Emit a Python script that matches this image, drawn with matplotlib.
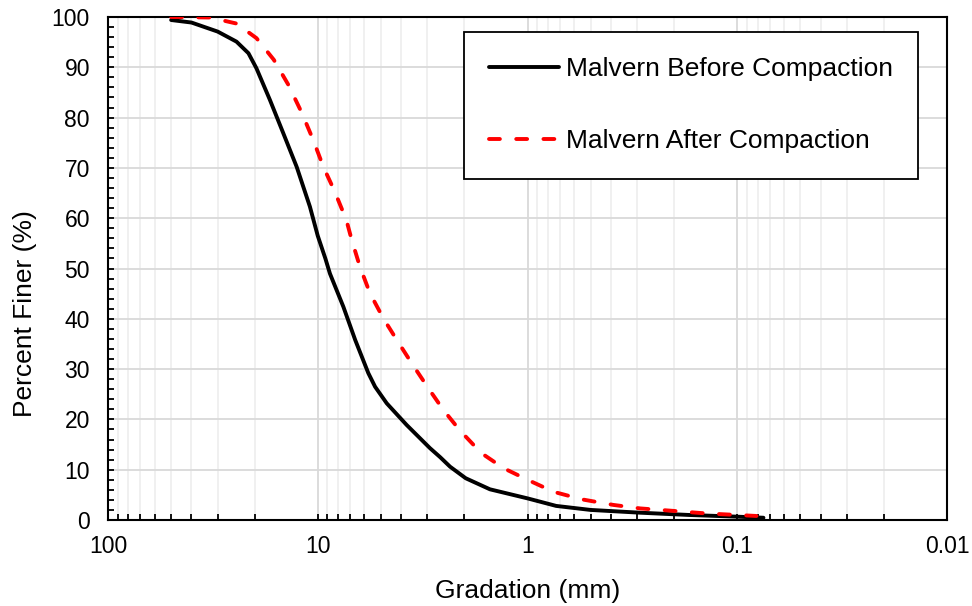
import matplotlib
matplotlib.use("Agg")
import matplotlib.pyplot as plt
from matplotlib.ticker import LogLocator, FixedLocator, MultipleLocator, NullFormatter

plt.rcParams['font.family'] = ['Liberation Sans', 'DejaVu Sans']

# Grain size distribution (mm vs percent finer)
before_size = [50, 40, 30, 24.4, 21.4, 19.6, 16.9, 14.6, 12.6, 10.9, 10.0, 9.2, 8.75,
               7.55, 6.63, 5.74, 5.33, 4.69, 3.77, 2.92, 2.61, 2.34, 1.97, 1.51, 1.0,
               0.73, 0.50, 0.29, 0.17, 0.10, 0.075]
before_pct = [99.4, 98.9, 97.1, 95.1, 92.8, 89.8, 83.5, 76.9, 70.2, 62.3, 56.5, 52.0, 49.0,
              42.4, 35.8, 29.2, 26.5, 23.2, 18.9, 14.3, 12.5, 10.6, 8.3, 6.1, 4.3,
              2.8, 2.0, 1.45, 1.0, 0.66, 0.45]

after_size = [50, 32.6, 24.4, 19.6, 16.2, 13.8, 11.9, 10.5, 9.4, 8.3, 7.3, 6.9, 6.3,
              5.64, 4.87, 4.2, 3.57, 2.97, 2.52, 2.10, 1.66, 1.30, 1.0, 0.75, 0.55,
              0.39, 0.29, 0.20, 0.14, 0.10, 0.081]
after_pct = [100.0, 99.9, 98.7, 95.8, 91.5, 86.5, 80.9, 75.5, 70.2, 65.3, 59.6, 55.8, 50.4,
             45.1, 40.1, 35.8, 31.2, 26.2, 21.9, 17.8, 13.3, 10.3, 8.0, 5.6, 4.1,
             3.0, 2.3, 1.8, 1.3, 1.0, 0.8]

series_labels = ["Malvern Before Compaction", "Malvern After Compaction"]
x_ticks = [100, 10, 1, 0.1, 0.01]
x_tick_labels = ["100", "10", "1", "0.1", "0.01"]

fig = plt.figure(figsize=(9.72, 6.06), dpi=100)
ax = fig.add_axes([108 / 972, 86 / 606, 839 / 972, 503 / 606])

ax.set_xscale('log')
ax.set_xlim(100, 0.01)
ax.set_ylim(0, 100)

ax.plot(before_size, before_pct, color='black', lw=2.8, solid_joinstyle='round',
        solid_capstyle='round', label=series_labels[0], zorder=3)
ax.plot(after_size, after_pct, color='#ff0000', lw=2.8, dashes=(2.8, 4.2),
        dash_capstyle='round', dash_joinstyle='round', label=series_labels[1], zorder=3)

# Ticks
ax.xaxis.set_major_locator(FixedLocator(x_ticks))
ax.set_xticklabels(x_tick_labels)
ax.xaxis.set_minor_locator(LogLocator(base=10, subs=range(2, 10), numticks=20))
ax.xaxis.set_minor_formatter(NullFormatter())
ax.yaxis.set_major_locator(MultipleLocator(10))
ax.yaxis.set_minor_locator(MultipleLocator(2))

ax.tick_params(axis='both', which='both', direction='in', labelsize=16.5,
               width=1.3, length=4)
ax.tick_params(axis='x', which='major', pad=11)
ax.tick_params(axis='y', which='major', pad=13)

# Grid
ax.grid(True, which='major', axis='both', color='#d9d9d9', lw=1.3, zorder=0)
ax.grid(True, which='minor', axis='x', color='#efefef', lw=1.3, zorder=0)
ax.set_axisbelow(True)

for sp in ax.spines.values():
    sp.set_linewidth(1.5)
    sp.set_color('black')

ax.set_xlabel("Gradation (mm)", fontsize=19)
ax.set_ylabel("Percent Finer (%)", fontsize=19)
ax.xaxis.set_label_coords(0.5, -0.141)
ax.xaxis.label.set_va('center')
ax.yaxis.set_label_coords(-0.099, 0.41)
ax.yaxis.label.set_va('center')

leg = ax.legend(loc='upper right', bbox_to_anchor=(0.966, 0.970), fontsize=19,
                frameon=True, fancybox=False, edgecolor='black', framealpha=1,
                borderpad=0.95, labelspacing=1.83, handlelength=2.65, handletextpad=0.27,
                borderaxespad=0)
leg.get_frame().set_linewidth(1.3)

fig.savefig("out.png", dpi=100)
